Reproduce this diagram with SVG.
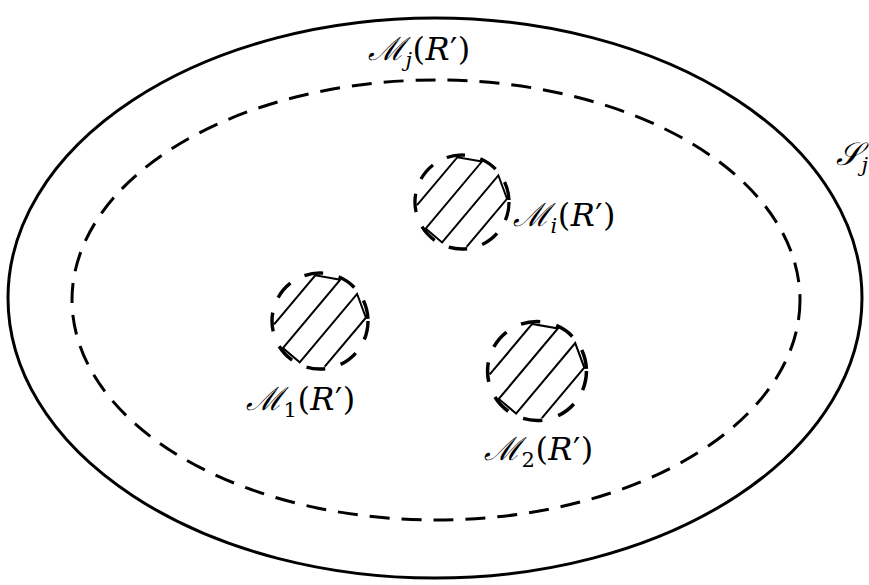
<svg xmlns="http://www.w3.org/2000/svg" xmlns:xlink="http://www.w3.org/1999/xlink" width="869" height="585" viewBox="0 0 869 585">
<style>
.solid{fill:none;stroke:#000;stroke-width:3}
.dash{fill:none;stroke:#000;stroke-width:3;stroke-dasharray:20 12}
.cdash{fill:none;stroke:#000;stroke-width:3.4;stroke-dasharray:19 16}
.hatch{fill:none;stroke:#000;stroke-width:2;stroke-linejoin:miter}
.lbl{font-family:"DejaVu Serif","Liberation Serif",serif;font-style:italic;font-size:32px;fill:#000;letter-spacing:0.5px}
.sub{font-size:21px}
.up{font-style:normal}
</style>
<defs>
<g id="hatched">
<polyline class="hatch" points="-45.9,3.3 -4.7,-45.7 20.3,-41.3 -37.1,27.1 -20.3,41.3 37.1,-27.1 45.9,-3.3 4.7,45.7"/>
<circle class="cdash" r="48"/>
</g>
</defs>
<g id="set-Sj">
<ellipse class="solid" cx="435" cy="298" rx="427" ry="280"/>
<text class="lbl" x="836" y="165">𝒮<tspan class="sub" dy="7">j</tspan></text>
</g>
<g id="set-Mj">
<ellipse class="dash" cx="436" cy="300" rx="364" ry="220"/>
<text class="lbl" x="368" y="60">ℳ<tspan class="sub" dy="7">j</tspan><tspan class="up" dy="-7">(</tspan>R<tspan class="up">′)</tspan></text>
</g>
<g id="set-Mi">
<use xlink:href="#hatched" transform="translate(462,202) scale(0.98)"/>
<text class="lbl" x="513" y="226">ℳ<tspan class="sub" dy="7">i</tspan><tspan class="up" dy="-7">(</tspan>R<tspan class="up">′)</tspan></text>
</g>
<g id="set-M1">
<use xlink:href="#hatched" transform="translate(320,321)"/>
<text class="lbl" x="246" y="410">ℳ<tspan class="sub up" dy="7">1</tspan><tspan class="up" dy="-7">(</tspan>R<tspan class="up">′)</tspan></text>
</g>
<g id="set-M2">
<use xlink:href="#hatched" transform="translate(537,371) scale(1.03)"/>
<text class="lbl" x="484" y="460">ℳ<tspan class="sub up" dy="7">2</tspan><tspan class="up" dy="-7">(</tspan>R<tspan class="up">′)</tspan></text>
</g>
<g id="connectors"/>
</svg>
